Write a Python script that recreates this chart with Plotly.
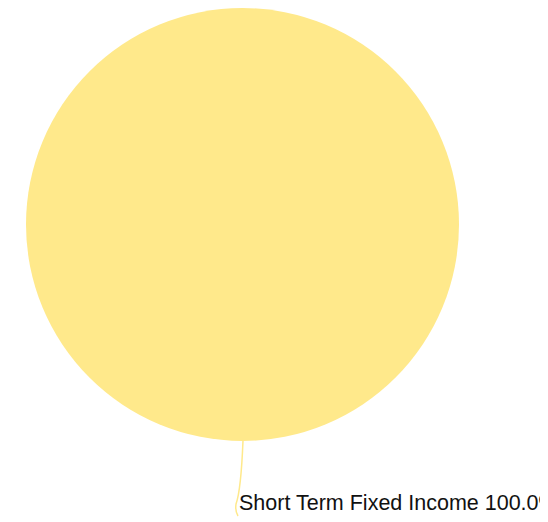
import plotly.graph_objects as go

labels = ["Short Term Fixed Income"]
values = [100.0]
colors = ["#FFE98B"]

W, H = 548, 522
OFF = 8  # page body margin offsets the figure

def fx(x):
    return (x - OFF) / W

def fy(y):
    return 1 - (y - OFF) / H

fig = go.Figure(go.Pie(
    labels=labels,
    values=values,
    marker=dict(colors=colors, line=dict(width=0)),
    textinfo="none",
    sort=False,
    showlegend=False,
    domain=dict(x=[fx(26), fx(459)], y=[fy(441), 1]),
))

# label outside the slice, with a thin leader line in the slice colour
pct = values[0] / sum(values) * 100
fig.add_annotation(
    xref="paper", yref="paper",
    x=fx(237), y=fy(503),
    xanchor="left", yanchor="middle",
    text=f"{labels[0]} {pct:.1f}%",
    showarrow=False,
    font=dict(family="Liberation Sans, Arial", size=21.5, color="#111111"),
)

def pt(x, y):
    return f"{fx(x):.4f},{fy(y):.4f}"

fig.add_shape(
    type="path", xref="paper", yref="paper",
    path=f"M {pt(243, 441)} Q {pt(241, 490)} {pt(236, 504)} Q {pt(235, 511)} {pt(238, 516)}",
    line=dict(color=colors[0], width=1.5),
)

fig.update_layout(
    width=W,
    height=H,
    margin=dict(l=0, r=0, t=0, b=0),
    paper_bgcolor="white",
    plot_bgcolor="white",
)

fig.write_html("out.html")
